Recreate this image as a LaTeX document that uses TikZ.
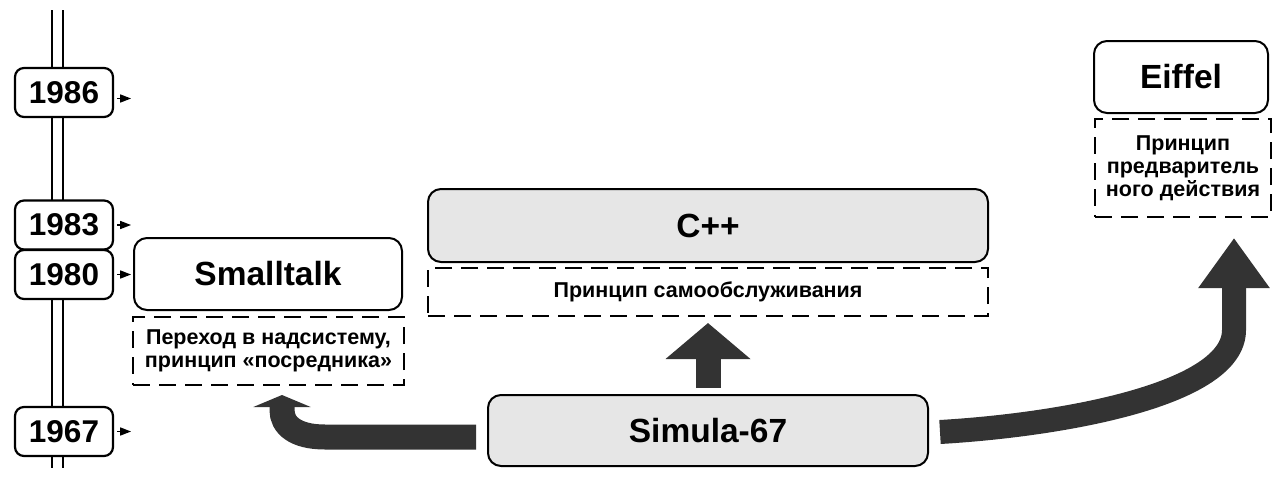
\documentclass[tikz,border=0pt]{standalone}
\usepackage{fontspec}
\setmainfont{Liberation Sans}
\usepackage{tikz}
\usetikzlibrary{arrows.meta}
\definecolor{boxgray}{HTML}{E6E6E6}
\definecolor{arrowgray}{HTML}{333333}

\begin{document}
\begin{tikzpicture}[x=1pt, y=-1pt,
  yearbox/.style={draw, line width=2.2pt, rounded corners=9pt, fill=white,
    minimum width=98pt, minimum height=49pt, inner sep=0pt,
    font=\fontsize{31.5}{31.5}\selectfont\bfseries},
  langbox/.style={draw, line width=2pt, rounded corners=13pt, inner sep=0pt,
    font=\fontsize{33.5}{33.5}\selectfont\bfseries},
  notebox/.style={draw, dash pattern=on 17pt off 9pt, line width=2pt,
    inner sep=0pt, align=center, font=\fontsize{21.5}{23}\selectfont\bfseries},
  yeartick/.style={-{Triangle[width=8pt,length=11pt]}, line width=1.6pt, shorten <=3pt},
  flow/.style={draw=arrowgray, line width=24pt}]
  \useasboundingbox (0,0) rectangle (1280,482);

  % time axis
  \draw[line width=2pt] (52,10) -- (52,468) (63,10) -- (63,468);
  \node[yearbox] (y1986) at (64,92.5) {1986};
  \node[yearbox] (y1983) at (64,225) {1983};
  \node[yearbox] (y1980) at (64,274.5) {1980};
  \node[yearbox] (y1967) at (64,431.5) {1967};
  \draw[yeartick] ([yshift=-6pt]y1986.east) -- ++(17,0);
  \foreach \y in {1983,1980,1967}
    \draw[yeartick] (y\y.east) -- ++(17,0);

  % languages
  \node[langbox, fill=white, minimum width=268pt, minimum height=72pt] (smalltalk) at (268,274) {Smalltalk};
  \node[notebox, minimum width=271pt, minimum height=68pt] (stnote) at (268.5,351)
    {Переход в надсистему,\\принцип «посредника»};
  \node[langbox, fill=boxgray, minimum width=560pt, minimum height=73pt] (cpp) at (708,225.5) {C++};
  \node[notebox, minimum width=560pt, minimum height=48pt] (cppnote) at (708,292)
    {Принцип самообслуживания};
  \node[langbox, fill=white, minimum width=174pt, minimum height=72pt] (eiffel) at (1181,77) {Eiffel};
  \node[notebox, minimum width=176pt, minimum height=98pt] (einote) at (1183,168)
    {Принцип\\предваритель\\ного действия};
  \node[langbox, fill=boxgray, minimum width=440pt, minimum height=71pt] (simula) at (708,430.5) {Simula-67};

  % inheritance arrows
  \coordinate (stin) at (282,395);
  \coordinate (eiin) at (1234,238);
  \draw[flow, line width=25pt, -{Triangle[width=57pt,length=12pt]}]
    ([xshift=-11pt, yshift=-6.5pt]simula.west) -- (325,437)
    .. controls (295,437) and (282,425) .. (282,410) -- (stin);
  \draw[flow, line width=25pt, -{Triangle[width=83pt,length=36pt]},
    shorten <=6pt, shorten >=6pt] (simula) -- (cppnote);
  \draw[flow, -{Triangle[width=68pt,length=50pt]}]
    ([xshift=11pt, yshift=-1.5pt]simula.east)
    .. controls (1060,425) and (1234,395) .. (1234,330) -- (eiin);
\end{tikzpicture}
\end{document}
